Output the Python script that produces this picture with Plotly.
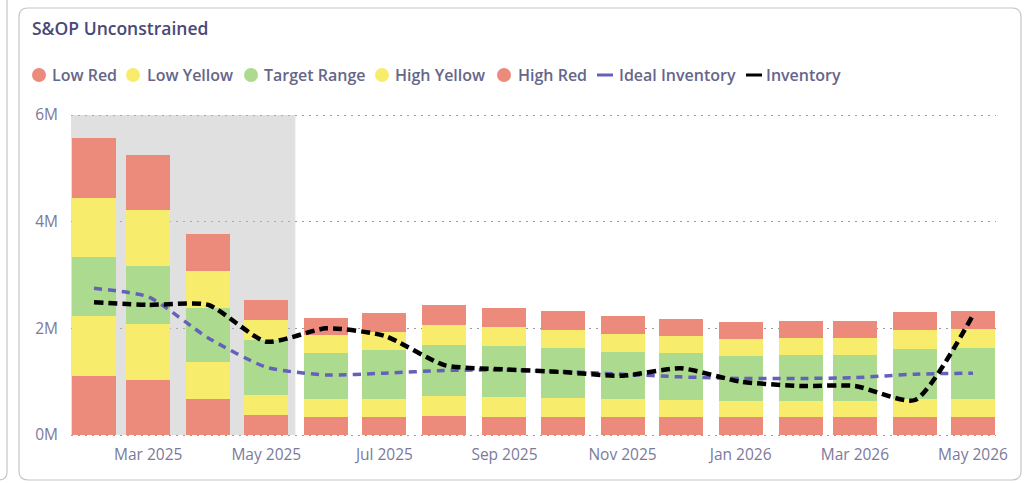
import plotly.graph_objects as go

# ---------------- data (values in millions) ----------------
months = ["2025-02-01", "2025-03-01", "2025-04-01", "2025-05-01", "2025-06-01",
          "2025-07-01", "2025-08-01", "2025-09-01", "2025-10-01", "2025-11-01",
          "2025-12-01", "2026-01-01", "2026-02-01", "2026-03-01", "2026-04-01",
          "2026-05-01"]
low_red = [1.11, 1.04, 0.68, 0.375, 0.33, 0.33, 0.36, 0.34, 0.34, 0.33,
           0.34, 0.33, 0.33, 0.33, 0.34, 0.34]
low_yellow = [1.13, 1.05, 0.69, 0.375, 0.34, 0.34, 0.37, 0.37, 0.36, 0.34,
              0.32, 0.31, 0.31, 0.31, 0.34, 0.34]
target_range = [1.09, 1.08, 1.02, 1.03, 0.86, 0.93, 0.96, 0.95, 0.93, 0.89,
                0.87, 0.84, 0.86, 0.86, 0.94, 0.95]
high_yellow = [1.11, 1.04, 0.68, 0.38, 0.34, 0.34, 0.37, 0.36, 0.345, 0.34,
               0.32, 0.32, 0.31, 0.32, 0.35, 0.35]
high_red = [1.13, 1.04, 0.69, 0.375, 0.33, 0.35, 0.37, 0.36, 0.355, 0.34,
            0.33, 0.325, 0.32, 0.31, 0.345, 0.345]
ideal_inventory = [2.75, 2.59, 1.82, 1.27, 1.125, 1.16, 1.21, 1.22, 1.19, 1.14,
                   1.09, 1.06, 1.06, 1.075, 1.14, 1.16]
inventory = [2.49, 2.44, 2.44, 1.75, 2.0, 1.86, 1.31, 1.23, 1.18, 1.11,
             1.25, 1.0, 0.92, 0.92, 0.656, 2.25]

x_tick_vals = ["2025-03-01", "2025-05-01", "2025-07-01", "2025-09-01",
               "2025-11-01", "2026-01-01", "2026-03-01", "2026-05-01"]
x_tick_text = ["Mar 2025", "May 2025", "Jul 2025", "Sep 2025",
               "Nov 2025", "Jan 2026", "Mar 2026", "May 2026"]
y_tick_vals = [0, 2, 4, 6]
y_tick_text = ["0M", "2M", "4M", "6M"]
actuals_start = "2025-01-20 03:00"
actuals_end = "2025-05-16"

# ---------------- style ----------------
RED = "#EC8B7B"
YELLOW = "#F7EC6C"
GREEN = "#ACDA8E"
PURPLE = "#6461BA"
BLACK = "#000000"
FONT = "Open Sans"

W, H = 1025, 483
L, R, T, B = 71, 29, 113, 46
PW, PH = W - L - R, H - T - B
Y_PAD = 0.0375


def px(x):
    return (x - L) / PW


def py(y):
    return (H - B - y) / PH


DAY_MS = 86400000
bar_width = [22.7 * DAY_MS] * len(months)

fig = go.Figure()
series = [("Low Red", low_red, RED), ("Low Yellow", low_yellow, YELLOW),
          ("Target Range", target_range, GREEN), ("High Yellow", high_yellow, YELLOW),
          ("High Red", high_red, RED)]
for name, vals, col in series:
    fig.add_trace(go.Bar(x=months, y=vals, name=name, width=bar_width,
                         marker=dict(color=col, line=dict(width=0)),
                         showlegend=False))

fig.add_trace(go.Scatter(x=months, y=ideal_inventory, name="Ideal Inventory",
                         mode="lines", showlegend=False,
                         line=dict(color=PURPLE, width=3.5, dash="8px,6px",
                                   shape="spline", smoothing=0.6)))
fig.add_trace(go.Scatter(x=months, y=inventory, name="Inventory",
                         mode="lines", showlegend=False,
                         line=dict(color=BLACK, width=4.5, dash="9px,5px",
                                   shape="spline", smoothing=0.6)))

shapes = []
# shaded actuals period (translucent so the dotted grid shows through)
shapes.append(dict(type="rect", xref="x", yref="y", x0=actuals_start, x1=actuals_end,
                   y0=0, y1=6, fillcolor="rgba(190,190,190,0.47)", line=dict(width=0),
                   layer="between"))


# card borders
def rrect(x0, y0, x1, y1, r):
    return (f"M {px(x0 + r)},{py(y0)} L {px(x1 - r)},{py(y0)} "
            f"Q {px(x1)},{py(y0)} {px(x1)},{py(y0 + r)} "
            f"L {px(x1)},{py(y1 - r)} Q {px(x1)},{py(y1)} {px(x1 - r)},{py(y1)} "
            f"L {px(x0 + r)},{py(y1)} Q {px(x0)},{py(y1)} {px(x0)},{py(y1 - r)} "
            f"L {px(x0)},{py(y0 + r)} Q {px(x0)},{py(y0)} {px(x0 + r)},{py(y0)} Z")


shapes.append(dict(type="path", xref="paper", yref="paper", path=rrect(19, 8, 1021, 480, 9),
                   line=dict(color="#C6C6C6", width=1.2), layer="below"))
shapes.append(dict(type="path", xref="paper", yref="paper",
                   path=(f"M {px(7)},{py(-5)} L {px(7)},{py(472)} "
                         f"Q {px(7)},{py(480)} {px(-1)},{py(480)}"),
                   line=dict(color="#C6C6C6", width=1.2), layer="below"))

annotations = []
annotations.append(dict(text="S&OP Unconstrained", xref="paper", yref="paper",
                        x=px(30), y=py(28), xanchor="left", yanchor="middle",
                        showarrow=False,
                        font=dict(family=FONT, size=17.5, color="#4A4879", weight=600)))

legend_items = [("Low Red", "circle", RED, 39, 50),
                ("Low Yellow", "circle", YELLOW, 133, 145),
                ("Target Range", "circle", GREEN, 251, 262),
                ("High Yellow", "circle", YELLOW, 382, 393),
                ("High Red", "circle", RED, 504, 516),
                ("Ideal Inventory", "line", PURPLE, 605, 617),
                ("Inventory", "line", BLACK, 754, 764)]
LY = 75
for name, kind, col, cx, tx in legend_items:
    if kind == "circle":
        shapes.append(dict(type="circle", xref="paper", yref="paper",
                           x0=px(cx - 7), x1=px(cx + 7), y0=py(LY - 7), y1=py(LY + 7),
                           fillcolor=col, line=dict(width=0)))
    else:
        shapes.append(dict(type="line", xref="paper", yref="paper",
                           x0=px(cx - 8), x1=px(cx + 8), y0=py(LY), y1=py(LY),
                           line=dict(color=col, width=3)))
    annotations.append(dict(text=name, xref="paper", yref="paper", x=px(tx), y=py(LY),
                            xanchor="left", yanchor="middle", showarrow=False,
                            font=dict(family=FONT, size=16, color="#66658A", weight=600)))

fig.update_layout(
    width=W, height=H,
    margin=dict(l=L, r=R, t=T, b=B, pad=0),
    paper_bgcolor="white", plot_bgcolor="white",
    barmode="stack",
    showlegend=False,
    shapes=shapes,
    annotations=annotations,
    xaxis=dict(type="date", range=["2025-01-20 03:00", "2026-05-12 21:00"],
               tickmode="array", tickvals=x_tick_vals, ticktext=x_tick_text,
               showgrid=False, zeroline=False, showline=False, ticks="",
               ticklabelstandoff=6,
               tickfont=dict(family=FONT, size=15.5, color="#7C7A9A")),
    yaxis=dict(range=[-Y_PAD, 6 + Y_PAD], tickmode="array", tickvals=y_tick_vals,
               ticktext=y_tick_text,
               showgrid=True, gridcolor="#9A9A9A", griddash="2px,5px", gridwidth=1.2,
               zeroline=False, showline=False, ticks="", ticklabelstandoff=12,
               tickfont=dict(family=FONT, size=15.5, color="#7C7A9A")),
)

fig.write_html("out.html", config={"displayModeBar": False},
               post_script="document.body.style.margin='0';document.body.style.overflow='hidden';")
